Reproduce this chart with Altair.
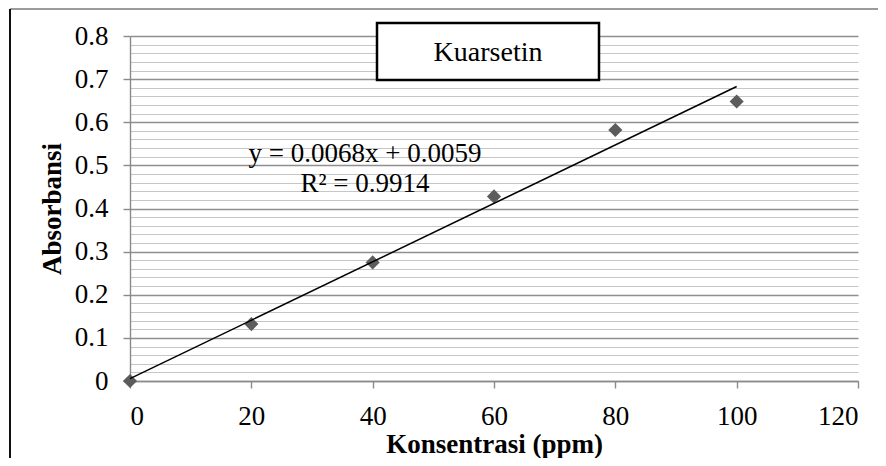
import altair as alt
import pandas as pd

# data
konsentrasi = [0, 20, 40, 60, 80, 100]
absorbansi = [0.0, 0.132, 0.275, 0.428, 0.582, 0.648]
x_ticks = [0, 20, 40, 60, 80, 100, 120]
y_ticks = [round(i * 0.02, 2) for i in range(41)]
legend_label = "Kuarsetin"
eq_text = "y = 0.0068x + 0.0059"
r2_text = "R² = 0.9914"

df = pd.DataFrame({"x": konsentrasi, "y": absorbansi})

FONT = "Liberation Serif"
FS = 27
W, H = 728, 345
major = "abs(datum.value*10 - round(datum.value*10)) < 0.001"

xs = alt.X("x:Q", scale=alt.Scale(domain=[0, 120], nice=False),
           axis=alt.Axis(values=x_ticks, tickCount=len(x_ticks), format="d", grid=False,
                         title="Konsentrasi (ppm)", titleX=W / 2, titleY=71,
                         titleBaseline="alphabetic"))
ys = alt.Y("y:Q", scale=alt.Scale(domain=[0, 0.8], nice=False),
           axis=alt.Axis(values=y_ticks, tickCount=len(y_ticks), grid=True,
                         labelOverlap=False, labelBound=False,
                         labelExpr=f"{major} ? (datum.value == 0 ? '0' : format(datum.value, '.1f')) : ''",
                         gridColor={"condition": {"test": major, "value": "#8f8f8f"}, "value": "#c6c6c6"},
                         gridWidth={"condition": {"test": major, "value": 1.4}, "value": 1.2},
                         tickOpacity={"condition": {"test": major, "value": 1}, "value": 0},
                         title="Absorbansi", titleX=-78, titleY=H / 2, titleAngle=-90,
                         titleAlign="center", titleBaseline="middle"))

base = alt.Chart(df)

points = base.mark_point(shape="diamond", filled=True, size=200, color="#5c5c5c", opacity=1).encode(x=xs, y=ys)

trend = base.transform_regression("x", "y", extent=[0, 100]).mark_line(
    color="#000000", strokeWidth=1.5).encode(x="x:Q", y="y:Q")

frame_top = alt.Chart(pd.DataFrame({"a": [0]})).mark_rule(color="#7a7a7a", strokeWidth=1.5).encode(
    x=alt.value(-120), x2=alt.value(760), y=alt.value(-27))
frame_left = alt.Chart(pd.DataFrame({"a": [0]})).mark_rule(color="#111111", strokeWidth=2).encode(
    x=alt.value(-120), y=alt.value(-27), y2=alt.value(440))

legend_box = alt.Chart(pd.DataFrame({"a": [0]})).mark_rect(
    fill="white", stroke="black", strokeWidth=2.5).encode(
    x=alt.value(247), x2=alt.value(469), y=alt.value(-13), y2=alt.value(44))
legend_text = alt.Chart(pd.DataFrame({"t": [legend_label]})).mark_text(
    font=FONT, fontSize=28, color="black", align="center", baseline="alphabetic").encode(
    x=alt.value(358), y=alt.value(25), text="t:N")

eq = alt.Chart(pd.DataFrame({"t": [eq_text]})).mark_text(
    font=FONT, fontSize=FS, color="black", align="center", baseline="alphabetic").encode(
    x=alt.value(235), y=alt.value(126), text="t:N")
r2 = alt.Chart(pd.DataFrame({"t": [r2_text]})).mark_text(
    font=FONT, fontSize=FS, color="black", align="center", baseline="alphabetic").encode(
    x=alt.value(235), y=alt.value(156), text="t:N")

chart = alt.layer(points, trend, frame_top, frame_left, legend_box, legend_text, eq, r2).properties(
    width=W, height=H,
    autosize=alt.AutoSizeParams(type="none"),
    padding={"left": 122, "top": 28, "right": 20, "bottom": 77},
    background="white",
).configure_view(stroke=None).configure_axis(
    labelFont=FONT, labelFontSize=FS, labelColor="black",
    titleFont=FONT, titleFontSize=FS, titleFontWeight="bold", titleColor="black",
    domainColor="#8a8a8a", domainWidth=1.4, tickColor="#8a8a8a", tickSize=7, tickWidth=1.4,
    labelPadding=15,
)

chart.save("out.html", embed_options={"renderer": "svg", "actions": False})
